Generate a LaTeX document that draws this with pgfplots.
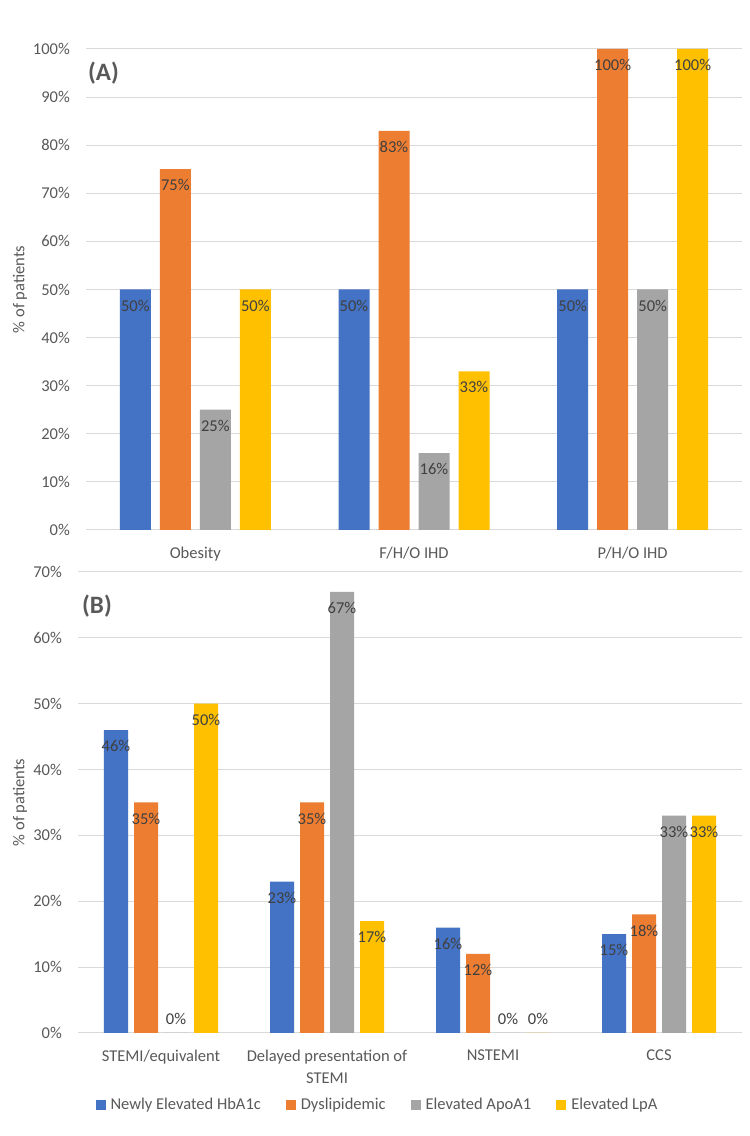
\documentclass[border=0pt]{standalone}
\usepackage{pgfplots}
\pgfplotsset{compat=1.18}
\usepackage{fontspec}
\setmainfont{Carlito}
\definecolor{cblue}{HTML}{4472C4}
\definecolor{corange}{HTML}{ED7D31}
\definecolor{cgray}{HTML}{A5A5A5}
\definecolor{cgold}{HTML}{FFC000}
\definecolor{gridgray}{HTML}{D9D9D9}
\definecolor{labgray}{HTML}{595959}
\definecolor{datagray}{HTML}{404040}
\newcommand\lf{\fontsize{16.5}{22.5}\selectfont}
\begin{document}
\begin{tikzpicture}[x=1pt,y=1pt]
\path[use as bounding box, fill=white] (0,0) rectangle (750,1136);
\pgfplotsset{
  mystyle/.style={
    scale only axis,
    axis line style={draw=none},
    major tick length=0pt,
    ymajorgrids,
    major grid style={draw=gridgray, line width=1pt},
    ybar,
    ymin=0,
    xtick=data,
    tick label style={font=\lf, text=labgray},
    /pgf/number format/assume math mode=true,
    yticklabel={\pgfmathprintnumber{\tick}\%},
    yticklabel style={inner sep=0pt, xshift=-16pt},
    xticklabel style={inner sep=0pt, yshift=-16.5pt, align=center},
    nodes near coords={\pgfmathprintnumber{\pgfplotspointmeta}\%},
    visualization depends on={rawy \as \rawy},
    every node near coord/.append style={anchor=center, font=\lf, text=datagray, inner sep=0pt, yshift={(\rawy==0)*30pt-16pt}},
    ylabel={\% of patients},
    legend image code/.code={\fill[##1,draw=none] (0pt,-5pt) rectangle (10pt,5pt);},
  }
}
% Panel A
\begin{axis}[mystyle, at={(86pt,606pt)}, anchor=south west, width=656pt, height=481pt,
  xmin=-0.5, xmax=2.5, ymax=100, ytick={0,10,...,100}, bar width=31pt,
  xticklabels={Obesity, F/H/O IHD, P/H/O IHD},
  ylabel style={at={(axis description cs:-0.1006,0.5)}, anchor=center, font=\lf, text=labgray}]
\addplot[fill=cblue, draw=none, bar shift=-60pt] coordinates {(0,50) (1,50) (2,50)};
\addplot[fill=corange, draw=none, bar shift=-20pt] coordinates {(0,75) (1,83) (2,100)};
\addplot[fill=cgray, draw=none, bar shift=20pt] coordinates {(0,25) (1,16) (2,50)};
\addplot[fill=cgold, draw=none, bar shift=60pt] coordinates {(0,50) (1,33) (2,100)};
\node[anchor=west, font=\bfseries\fontsize{25}{30}\selectfont, text=labgray, inner sep=0pt] at (axis description cs:0.003,0.950) {(A)};
\end{axis}
% Panel B
\begin{axis}[mystyle, at={(78pt,103pt)}, anchor=south west, width=664pt, height=461pt,
  xmin=-0.5, xmax=3.5, ymax=70, ytick={0,10,...,70}, bar width=24pt,
  xticklabels={STEMI/equivalent, {Delayed presentation of\\STEMI}, NSTEMI, CCS},
  ylabel style={at={(axis description cs:-0.0873,0.5)}, anchor=center, font=\lf, text=labgray},
  legend columns=4, legend cell align=left,
  legend style={at={(axis description cs:0.4495,-0.156)}, anchor=center, draw=none, fill=none,
    font=\lf, text=labgray, inner sep=0pt,
    nodes={inner sep=0pt},
    /tikz/every odd column/.append style={column sep=5pt},
    /tikz/every even column/.append style={column sep=25pt}}]
\addplot[fill=cblue, draw=none, bar shift=-45pt] coordinates {(0,46) (1,23) (2,16) (3,15)};
\addplot[fill=corange, draw=none, bar shift=-15pt] coordinates {(0,35) (1,35) (2,12) (3,18)};
\addplot[fill=cgray, draw=none, bar shift=15pt] coordinates {(0,0) (1,67) (2,0) (3,33)};
\addplot[fill=cgold, draw=none, bar shift=45pt] coordinates {(0,50) (1,17) (2,0) (3,33)};
\legend{Newly Elevated HbA1c, Dyslipidemic, Elevated ApoA1, Elevated LpA}
\node[anchor=west, font=\bfseries\fontsize{25}{30}\selectfont, text=labgray, inner sep=0pt] at (axis description cs:0.006,0.926) {(B)};
\end{axis}
\end{tikzpicture}
\end{document}
